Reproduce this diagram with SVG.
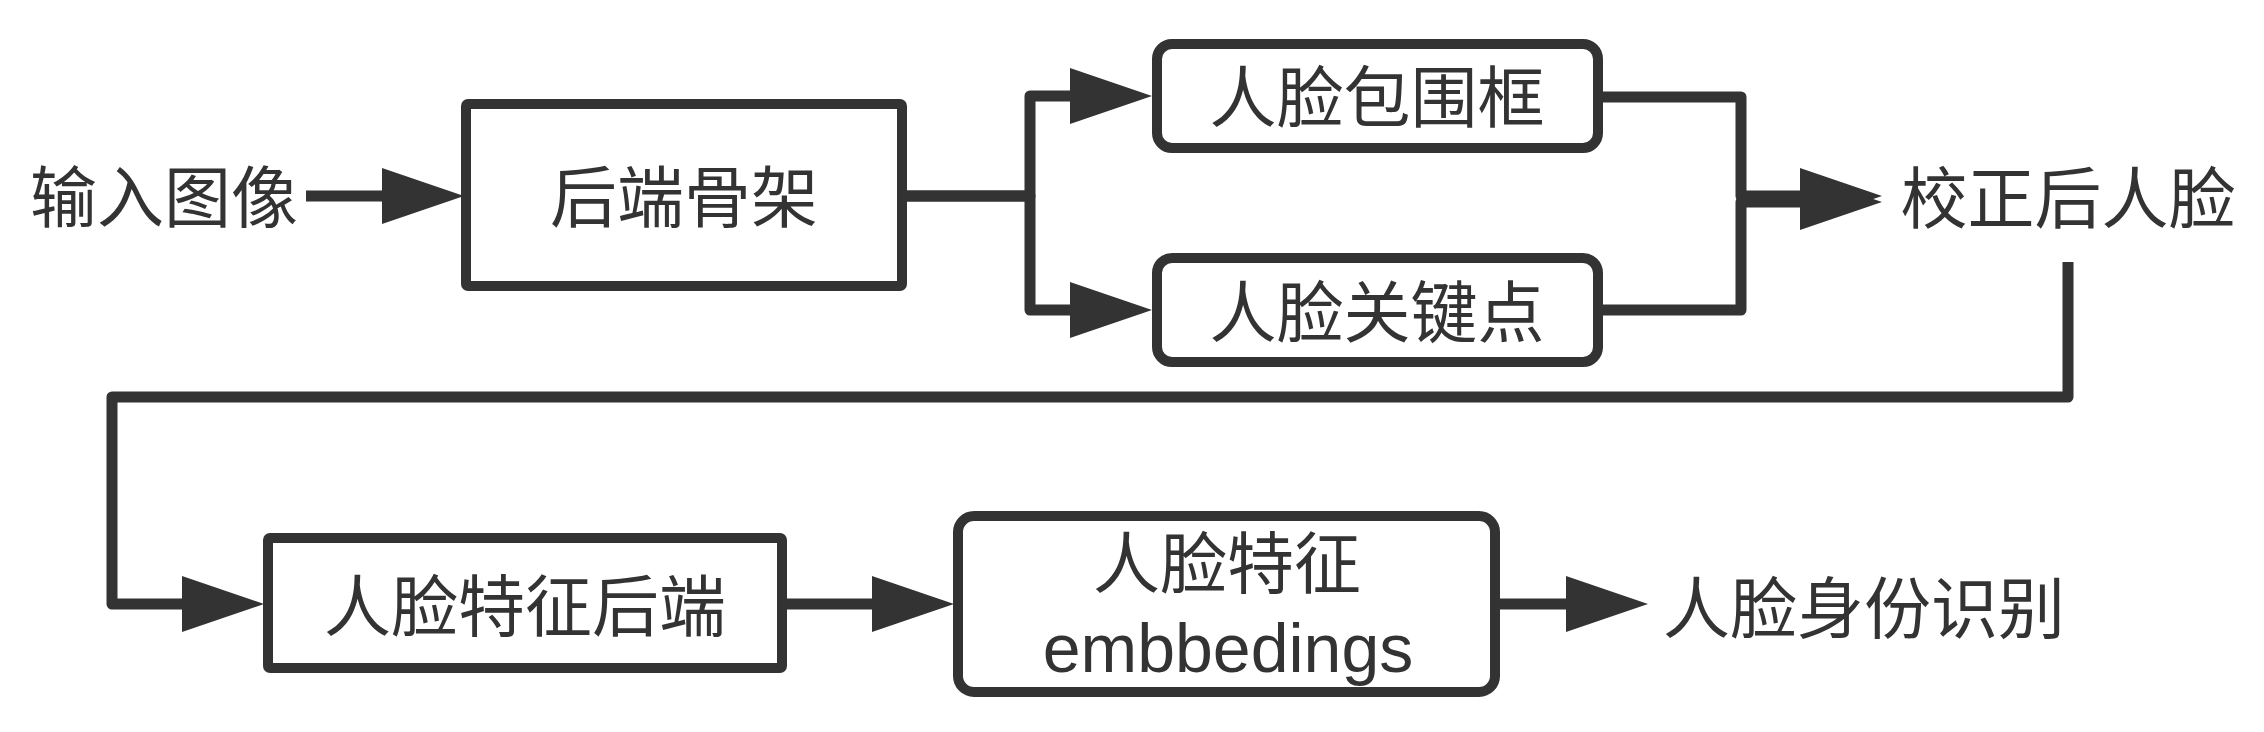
<svg xmlns="http://www.w3.org/2000/svg" width="2264" height="732" viewBox="0 0 2264 732">
<defs>
<style>
.box{fill:#ffffff;stroke:#333333;stroke-width:10;}
.edge{fill:none;stroke:#333333;stroke-width:11;stroke-linejoin:round;}
.t{font-family:"Liberation Sans","Noto Sans CJK SC",sans-serif;font-size:67px;fill:#333333;text-anchor:middle;}
</style>
<marker id="ah" markerUnits="userSpaceOnUse" viewBox="0 0 82 56" markerWidth="82" markerHeight="56" refX="0" refY="28" orient="auto">
<path d="M0,0 L82,28 L0,56 Z" fill="#333333"/>
</marker>
</defs>
<rect width="2264" height="732" fill="#ffffff"/>
<g id="connectors">
<path class="edge" d="M306,196 H382" marker-end="url(#ah)"/>
<path class="edge" d="M907,196 H1030 V96 H1070" marker-end="url(#ah)"/>
<path class="edge" d="M907,196 H1030 V310 H1070" marker-end="url(#ah)"/>
<path class="edge" d="M1603,97 H1741 V196 H1800" marker-end="url(#ah)"/>
<path class="edge" d="M1603,310 H1741 V202 H1800" marker-end="url(#ah)"/>
<path class="edge" d="M2068,262 V397 H112 V604 H182" marker-end="url(#ah)"/>
<path class="edge" d="M787,604 H872" marker-end="url(#ah)"/>
<path class="edge" d="M1500,604 H1566" marker-end="url(#ah)"/>
</g>
<g id="input">
<text class="t" x="164" y="222">输入图像</text>
</g>
<g id="backbone">
<rect class="box" x="466" y="104" width="436" height="182" rx="2"/>
<text class="t" x="684" y="222">后端骨架</text>
</g>
<g id="bbox">
<rect class="box" x="1157" y="44" width="441" height="104" rx="15"/>
<text class="t" x="1377" y="122">人脸包围框</text>
</g>
<g id="landmarks">
<rect class="box" x="1157" y="258" width="441" height="104" rx="15"/>
<text class="t" x="1377" y="337">人脸关键点</text>
</g>
<g id="aligned">
<text class="t" x="2068" y="223">校正后人脸</text>
</g>
<g id="featbackend">
<rect class="box" x="268" y="538" width="514" height="130" rx="2"/>
<text class="t" x="525" y="631">人脸特征后端</text>
</g>
<g id="embeddings">
<rect class="box" x="958" y="516" width="537" height="176" rx="16"/>
<text class="t" x="1227" y="588">人脸特征</text>
<text class="t" x="1228" y="672" style="font-size:68px">embbedings</text>
</g>
<g id="identity">
<text class="t" x="1864" y="633">人脸身份识别</text>
</g>
</svg>
